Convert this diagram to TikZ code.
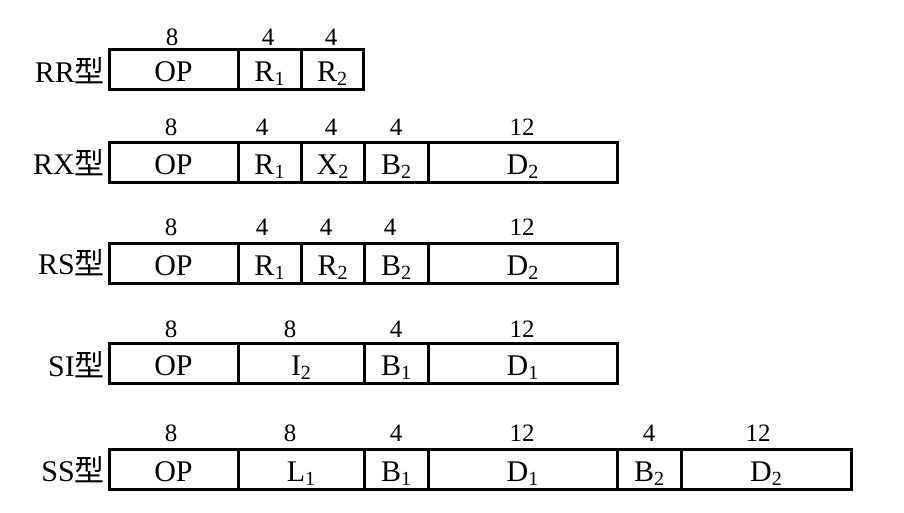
\documentclass[tikz,border=0pt]{standalone}
\usepackage{fontspec}
\setmainfont{Liberation Serif}
\newfontfamily\cjk{Noto Sans CJK SC}
\newcommand\sub[2]{#1\raisebox{-4pt}{\fontsize{20}{20}\selectfont #2}}
\begin{document}
\begin{tikzpicture}[x=1pt,y=-1pt,
  field/.style={draw,line width=3pt,inner sep=0pt,anchor=center,
    minimum height=40pt,text height=24pt,text depth=0pt,
    font=\fontsize{30}{30}\selectfont},
  num/.style={inner sep=0pt,anchor=center,font=\fontsize{25}{25}\selectfont},
  lbl/.style={inner sep=0pt,anchor=east,text height=24pt,text depth=0pt,
    font=\fontsize{30}{30}\selectfont}]
\useasboundingbox (0,0) rectangle (904,513);
% ---------- RR
\node[lbl] (l1) at (105,71) {RR{\cjk 型}};
\node[field,minimum width=129pt] (a1) at (173.5,70) {OP};
\node[field,minimum width=63pt] (a2) at (269.5,70) {\sub{R}{1}};
\node[field,minimum width=62pt] (a3) at (332,70) {\sub{R}{2}};
\node[num] (na1) at (172,37) {8};
\node[num] (na2) at (268,37) {4};
\node[num] (na3) at (331,37) {4};
% ---------- RX
\node[lbl] (l2) at (105,163) {RX{\cjk 型}};
\node[field,minimum width=129pt] (b1) at (173.5,163) {OP};
\node[field,minimum width=63pt] (b2) at (269.5,163) {\sub{R}{1}};
\node[field,minimum width=63pt] (b3) at (332.5,163) {\sub{X}{2}};
\node[field,minimum width=64pt] (b4) at (396,163) {\sub{B}{2}};
\node[field,minimum width=189pt] (b5) at (522.5,163) {\sub{D}{2}};
\node[num] (nb1) at (171,127) {8};
\node[num] (nb2) at (262,127) {4};
\node[num] (nb3) at (331,127) {4};
\node[num] (nb4) at (396,127) {4};
\node[num] (nb5) at (522,127) {12};
% ---------- RS
\node[lbl] (l3) at (105,262) {RS{\cjk 型}};
\node[field,minimum width=129pt] (c1) at (173.5,263) {OP};
\node[field,minimum width=63pt] (c2) at (269.5,263) {\sub{R}{1}};
\node[field,minimum width=63pt] (c3) at (332.5,263) {\sub{R}{2}};
\node[field,minimum width=64pt] (c4) at (396,263) {\sub{B}{2}};
\node[field,minimum width=189pt] (c5) at (522.5,263) {\sub{D}{2}};
\node[num] (nc1) at (171,227) {8};
\node[num] (nc2) at (262,227) {4};
\node[num] (nc3) at (326,227) {4};
\node[num] (nc4) at (390,227) {4};
\node[num] (nc5) at (522,227) {12};
% ---------- SI
\node[lbl] (l4) at (105,364) {SI{\cjk 型}};
\node[field,minimum width=129pt] (d1) at (173.5,363) {OP};
\node[field,minimum width=126pt] (d2) at (301,363) {\sub{I}{2}};
\node[field,minimum width=64pt] (d3) at (396,363) {\sub{B}{1}};
\node[field,minimum width=189pt] (d4) at (522.5,363) {\sub{D}{1}};
\node[num] (nd1) at (171,329) {8};
\node[num] (nd2) at (290,329) {8};
\node[num] (nd3) at (396,329) {4};
\node[num] (nd4) at (522,329) {12};
% ---------- SS
\node[lbl] (l5) at (105,469) {SS{\cjk 型}};
\node[field,minimum width=129pt] (e1) at (173.5,469) {OP};
\node[field,minimum width=126pt] (e2) at (301,469) {\sub{L}{1}};
\node[field,minimum width=64pt] (e3) at (396,469) {\sub{B}{1}};
\node[field,minimum width=189pt] (e4) at (522.5,469) {\sub{D}{1}};
\node[field,minimum width=64pt] (e5) at (649,469) {\sub{B}{2}};
\node[field,minimum width=170pt] (e6) at (766,469) {\sub{D}{2}};
\node[num] (ne1) at (171,433) {8};
\node[num] (ne2) at (290,433) {8};
\node[num] (ne3) at (396,433) {4};
\node[num] (ne4) at (522,433) {12};
\node[num] (ne5) at (649,433) {4};
\node[num] (ne6) at (758,433) {12};
\end{tikzpicture}
\end{document}
